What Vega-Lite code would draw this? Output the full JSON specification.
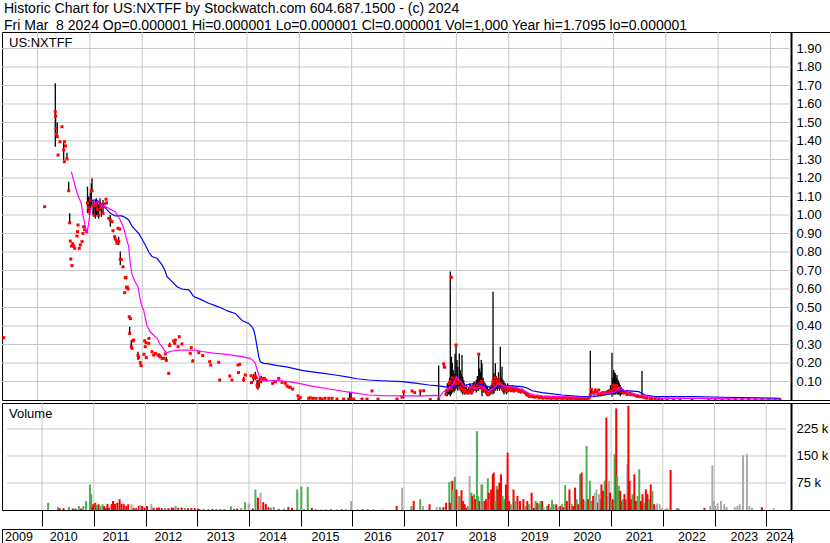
{
  "$schema": "https://vega.github.io/schema/vega-lite/v6.json",
  "padding": {"left": 1, "right": 0, "top": 2, "bottom": 0},
  "background": "white",
  "spacing": 1,
  "config": {
    "font": "Liberation Sans",
    "view": {"stroke": "black", "strokeWidth": 1},
    "axis": {"labelFont": "Liberation Sans", "labelColor": "black", "labelFontSize": 13, "labelOverlap": false, "grid": false, "title": null},
    "title": {"font": "Liberation Sans", "fontWeight": "normal", "color": "black"}
  },
  "title": {"text": ["Historic Chart for US:NXTFF by Stockwatch.com 604.687.1500 - (c) 2024", "Fri Mar \u00a08 2024 Op=0.000001 Hi=0.000001 Lo=0.000001 Cl=0.000001 Vol=1,000 Year hi=1.7095 lo=0.000001"], "anchor": "start", "fontSize": 14, "lineHeight": 17, "offset": -2, "dx": 3},
  "datasets": {
    "yg": [{"t":2010},{"t":2011},{"t":2012},{"t":2013},{"t":2014},{"t":2015},{"t":2016},{"t":2017},{"t":2018},{"t":2019},{"t":2020},{"t":2021},{"t":2022},{"t":2023},{"t":2024}],
    "pg": [{"p":0.1},{"p":0.2},{"p":0.3},{"p":0.4},{"p":0.5},{"p":0.6},{"p":0.7},{"p":0.8},{"p":0.9},{"p":1.0},{"p":1.1},{"p":1.2},{"p":1.3},{"p":1.4},{"p":1.5},{"p":1.6},{"p":1.7},{"p":1.8},{"p":1.9}],
    "vg": [{"v":75000},{"v":150000},{"v":225000}],
    "px": [
      {"t":2009.354,"c":0.337},{"t":2010.137,"c":1.045},
      {"t":2010.340,"h":1.712,"l":1.369,"c":1.558},{"t":2010.346,"h":1.54,"l":1.44,"c":1.535},{"t":2010.353,"c":1.468},{"t":2010.363,"c":1.438},
      {"t":2010.378,"h":1.50,"l":1.42,"c":1.423},{"t":2010.392,"c":1.324},{"t":2010.430,"c":1.396},{"t":2010.468,"c":1.477},
      {"t":2010.500,"h":1.396,"l":1.297,"c":1.351},{"t":2010.512,"c":1.288},{"t":2010.516,"c":1.396},{"t":2010.535,"c":1.373},
      {"t":2010.563,"h":1.337,"l":1.297,"c":1.303},{"t":2010.596,"h":1.18,"l":1.13,"c":1.131},{"t":2010.615,"h":1.009,"l":0.955,"c":0.958},
      {"t":2010.626,"c":0.859},{"t":2010.636,"c":0.762},{"t":2010.649,"c":0.832},{"t":2010.659,"c":0.726},{"t":2010.672,"c":0.845},
      {"t":2010.691,"c":0.832},{"t":2010.711,"c":0.82},{"t":2010.754,"c":0.886},{"t":2010.764,"c":0.91},{"t":2010.774,"c":0.946},
      {"t":2010.798,"c":0.82},{"t":2010.818,"c":0.838},{"t":2010.850,"c":0.856},{"t":2010.869,"c":0.90},{"t":2010.882,"c":0.937},
      {"t":2010.901,"c":0.92},{"t":2010.940,"c":0.91},
      {"t":2010.955,"h":1.153,"l":1.01,"c":1.065},{"t":2010.974,"h":1.10,"l":1.02,"c":1.04},{"t":2010.989,"h":1.09,"l":1.0,"c":1.02},
      {"t":2011.008,"h":1.12,"l":1.03,"c":1.08},{"t":2011.028,"h":1.17,"l":1.05,"c":1.131},{"t":2011.041,"h":1.198,"l":1.126,"c":1.131},
      {"t":2011.060,"h":1.08,"l":1.0,"c":1.05},{"t":2011.079,"h":1.07,"l":0.99,"c":1.0},{"t":2011.104,"h":1.08,"l":0.98,"c":1.06},
      {"t":2011.123,"h":1.09,"l":1.0,"c":1.05},{"t":2011.142,"h":1.07,"l":0.99,"c":1.03},{"t":2011.169,"h":1.06,"l":0.98,"c":1.0},
      {"t":2011.194,"h":1.09,"l":1.02,"c":1.06},{"t":2011.219,"h":1.06,"l":0.99,"c":1.04},{"t":2011.251,"h":1.081,"l":1.009,"c":1.009},
      {"t":2011.276,"c":1.06},{"t":2011.308,"c":1.085},{"t":2011.318,"c":1.065},{"t":2011.360,"c":0.982},
      {"t":2011.390,"h":1.0,"l":0.937,"c":0.973},{"t":2011.423,"c":0.964},{"t":2011.442,"c":0.915},{"t":2011.474,"c":0.883},
      {"t":2011.486,"c":0.87},{"t":2011.509,"c":0.86},{"t":2011.518,"c":0.847},{"t":2011.537,"c":0.928},
      {"t":2011.551,"h":0.883,"l":0.838,"c":0.856},{"t":2011.570,"c":0.924},{"t":2011.581,"h":0.802,"l":0.73,"c":0.76},
      {"t":2011.600,"c":0.76},{"t":2011.633,"c":0.72},{"t":2011.665,"c":0.58},{"t":2011.677,"c":0.661},{"t":2011.690,"c":0.661},
      {"t":2011.700,"c":0.609},{"t":2011.715,"c":0.61},{"t":2011.729,"c":0.60},{"t":2011.753,"c":0.45},
      {"t":2011.761,"h":0.396,"l":0.351,"c":0.36},{"t":2011.776,"c":0.44},{"t":2011.791,"h":0.324,"l":0.279,"c":0.29},
      {"t":2011.805,"c":0.279},{"t":2011.824,"c":0.32},{"t":2011.837,"c":0.324},{"t":2011.919,"h":0.261,"l":0.216,"c":0.24},
      {"t":2011.932,"c":0.23},{"t":2011.963,"c":0.202},{"t":2011.977,"c":0.186},{"t":2012.034,"c":0.247},{"t":2012.047,"c":0.32},
      {"t":2012.059,"c":0.288},{"t":2012.072,"c":0.31},{"t":2012.078,"c":0.229},{"t":2012.124,"c":0.306},{"t":2012.128,"c":0.333},
      {"t":2012.187,"c":0.261},{"t":2012.219,"c":0.243},{"t":2012.250,"c":0.252},{"t":2012.302,"c":0.243},
      {"t":2012.326,"h":0.252,"l":0.225,"c":0.24},{"t":2012.345,"c":0.235},{"t":2012.378,"c":0.225},{"t":2012.410,"c":0.225},
      {"t":2012.441,"c":0.249},{"t":2012.460,"h":0.234,"l":0.207,"c":0.215},{"t":2012.506,"c":0.144},
      {"t":2012.525,"h":0.31,"l":0.288,"c":0.295},{"t":2012.601,"c":0.319},{"t":2012.620,"c":0.306},{"t":2012.632,"c":0.324},
      {"t":2012.684,"c":0.288},{"t":2012.708,"c":0.342},{"t":2012.760,"c":0.303},{"t":2012.918,"c":0.252},{"t":2012.937,"c":0.283},
      {"t":2012.964,"h":0.22,"l":0.207,"c":0.21},{"t":2013.079,"c":0.256},{"t":2013.155,"c":0.24},{"t":2013.289,"c":0.207},
      {"t":2013.308,"c":0.189},{"t":2013.461,"c":0.204},{"t":2013.480,"c":0.108},{"t":2013.671,"c":0.13},{"t":2013.715,"c":0.108},
      {"t":2013.829,"c":0.189},{"t":2013.839,"c":0.148},{"t":2013.862,"c":0.193},{"t":2013.938,"h":0.126,"l":0.099,"c":0.11},
      {"t":2013.969,"c":0.135},{"t":2014.078,"c":0.131},{"t":2014.087,"c":0.094},{"t":2014.125,"h":0.14,"l":0.10,"c":0.12},
      {"t":2014.160,"h":0.153,"l":0.108,"c":0.13},{"t":2014.179,"c":0.12},{"t":2014.193,"h":0.108,"l":0.063,"c":0.08},
      {"t":2014.211,"h":0.10,"l":0.055,"c":0.07},{"t":2014.236,"h":0.12,"l":0.07,"c":0.10},{"t":2014.274,"h":0.13,"l":0.09,"c":0.117},
      {"t":2014.297,"c":0.11},{"t":2014.332,"c":0.117},{"t":2014.364,"c":0.108},{"t":2014.492,"c":0.09},{"t":2014.542,"c":0.099},
      {"t":2014.607,"c":0.117},{"t":2014.670,"c":0.095},{"t":2014.733,"c":0.09},{"t":2014.765,"c":0.076},{"t":2014.803,"c":0.07},
      {"t":2014.828,"c":0.068},{"t":2014.874,"c":0.059},{"t":2014.975,"c":0.022},{"t":2014.989,"c":0.004},{"t":2015.019,"c":0.013},
      {"t":2015.180,"c":0.009},{"t":2015.210,"c":0.012},{"t":2015.262,"c":0.009},{"t":2015.319,"c":0.009},{"t":2015.395,"c":0.009},
      {"t":2015.434,"c":0.005},{"t":2015.491,"c":0.009},{"t":2015.562,"c":0.009},{"t":2015.625,"c":0.009},{"t":2015.720,"c":0.005},
      {"t":2015.848,"c":0.005},{"t":2015.944,"c":0.005},{"t":2015.963,"h":0.045,"l":0.0,"c":0.005},{"t":2015.988,"h":0.04,"l":0.0,"c":0.005},
      {"t":2016.039,"c":0.005},{"t":2016.198,"c":0.005},{"t":2016.293,"c":0.005},{"t":2016.389,"c":0.049},{"t":2016.503,"c":0.005},
      {"t":2016.866,"c":0.005},{"t":2016.962,"c":0.015},{"t":2016.994,"h":0.045,"l":0.01,"c":0.045},{"t":2017.153,"c":0.049},
      {"t":2017.204,"c":0.04},{"t":2017.311,"h":0.049,"l":0.02,"c":0.049},{"t":2017.376,"c":0.05},{"t":2017.502,"c":0.002},
      {"t":2017.662,"h":0.186,"l":0.0,"c":0.005},{"t":2017.758,"h":0.198,"l":0.173,"c":0.195},{"t":2017.777,"c":0.177},
      {"t":2017.802,"h":0.06,"l":0.02,"c":0.03},{"t":2017.827,"h":0.09,"l":0.02,"c":0.05},{"t":2017.850,"h":0.10,"l":0.03,"c":0.06},
      {"t":2017.869,"h":0.12,"l":0.03,"c":0.09},{"t":2017.884,"h":0.694,"l":0.02,"c":0.10},{"t":2017.903,"c":0.663},
      {"t":2017.907,"h":0.234,"l":0.03,"c":0.06},{"t":2017.922,"h":0.20,"l":0.04,"c":0.12},{"t":2017.939,"h":0.162,"l":0.05,"c":0.08},
      {"t":2017.955,"h":0.144,"l":0.04,"c":0.10},{"t":2017.974,"h":0.25,"l":0.05,"c":0.09},{"t":2017.993,"h":0.297,"l":0.06,"c":0.297},
      {"t":2018.012,"h":0.216,"l":0.07,"c":0.11},{"t":2018.027,"h":0.18,"l":0.05,"c":0.09},{"t":2018.056,"h":0.252,"l":0.06,"c":0.10},
      {"t":2018.075,"h":0.162,"l":0.05,"c":0.07},{"t":2018.094,"h":0.14,"l":0.04,"c":0.06},{"t":2018.108,"h":0.243,"l":0.05,"c":0.08},
      {"t":2018.121,"h":0.126,"l":0.03,"c":0.05},{"t":2018.140,"h":0.108,"l":0.04,"c":0.06},{"t":2018.155,"h":0.09,"l":0.03,"c":0.05},
      {"t":2018.171,"h":0.072,"l":0.03,"c":0.04},{"t":2018.194,"h":0.08,"l":0.035,"c":0.05},{"t":2018.213,"h":0.06,"l":0.03,"c":0.04},
      {"t":2018.235,"h":0.07,"l":0.03,"c":0.045},{"t":2018.260,"h":0.09,"l":0.04,"c":0.06},{"t":2018.280,"h":0.08,"l":0.03,"c":0.04},
      {"t":2018.299,"h":0.07,"l":0.03,"c":0.05},{"t":2018.318,"h":0.09,"l":0.04,"c":0.07},{"t":2018.337,"h":0.10,"l":0.05,"c":0.08},
      {"t":2018.362,"h":0.095,"l":0.05,"c":0.06},{"t":2018.381,"h":0.11,"l":0.04,"c":0.06},{"t":2018.400,"h":0.13,"l":0.05,"c":0.08},
      {"t":2018.427,"h":0.252,"l":0.05,"c":0.248},{"t":2018.446,"h":0.17,"l":0.06,"c":0.09},{"t":2018.465,"h":0.15,"l":0.06,"c":0.08},
      {"t":2018.476,"h":0.216,"l":0.072,"c":0.10},{"t":2018.490,"h":0.198,"l":0.02,"c":0.06},{"t":2018.509,"h":0.12,"l":0.04,"c":0.07},
      {"t":2018.528,"h":0.10,"l":0.04,"c":0.06},{"t":2018.553,"h":0.09,"l":0.04,"c":0.05},{"t":2018.575,"h":0.08,"l":0.03,"c":0.04},
      {"t":2018.595,"h":0.07,"l":0.02,"c":0.03},{"t":2018.617,"h":0.06,"l":0.02,"c":0.03},{"t":2018.642,"h":0.07,"l":0.03,"c":0.04},
      {"t":2018.661,"h":0.08,"l":0.03,"c":0.05},{"t":2018.681,"h":0.09,"l":0.04,"c":0.06},{"t":2018.700,"h":0.585,"l":0.03,"c":0.10},
      {"t":2018.719,"h":0.144,"l":0.036,"c":0.08},{"t":2018.744,"h":0.198,"l":0.05,"c":0.12},{"t":2018.763,"h":0.13,"l":0.06,"c":0.10},
      {"t":2018.782,"h":0.12,"l":0.05,"c":0.09},{"t":2018.805,"h":0.15,"l":0.06,"c":0.11},{"t":2018.824,"h":0.10,"l":0.05,"c":0.07},
      {"t":2018.839,"h":0.288,"l":0.06,"c":0.09},{"t":2018.858,"h":0.12,"l":0.06,"c":0.08},{"t":2018.872,"h":0.18,"l":0.05,"c":0.07},
      {"t":2018.891,"h":0.11,"l":0.04,"c":0.06},{"t":2018.910,"h":0.10,"l":0.03,"c":0.06},{"t":2018.935,"h":0.09,"l":0.04,"c":0.07},
      {"t":2018.958,"h":0.08,"l":0.03,"c":0.05},{"t":2018.977,"h":0.09,"l":0.04,"c":0.06},{"t":2019.000,"h":0.08,"l":0.045,"c":0.06},
      {"t":2019.025,"h":0.075,"l":0.05,"c":0.06},{"t":2019.049,"h":0.07,"l":0.045,"c":0.05},{"t":2019.072,"h":0.08,"l":0.05,"c":0.065},
      {"t":2019.101,"h":0.07,"l":0.04,"c":0.05},{"t":2019.126,"h":0.065,"l":0.045,"c":0.055},{"t":2019.148,"h":0.07,"l":0.05,"c":0.06},
      {"t":2019.177,"h":0.065,"l":0.04,"c":0.05},{"t":2019.202,"h":0.06,"l":0.04,"c":0.05},{"t":2019.225,"h":0.06,"l":0.035,"c":0.045},
      {"t":2019.254,"h":0.063,"l":0.04,"c":0.05},{"t":2019.282,"h":0.055,"l":0.036,"c":0.045},{"t":2019.311,"h":0.05,"l":0.03,"c":0.04},
      {"t":2019.340,"h":0.045,"l":0.02,"c":0.03},{"t":2019.368,"h":0.04,"l":0.02,"c":0.025},{"t":2019.397,"h":0.03,"l":0.015,"c":0.02},
      {"t":2019.426,"c":0.02},{"t":2019.464,"c":0.018},{"t":2019.502,"c":0.015},{"t":2019.540,"c":0.02},{"t":2019.578,"c":0.012},
      {"t":2019.616,"c":0.015},{"t":2019.655,"c":0.01},{"t":2019.693,"c":0.014},{"t":2019.731,"c":0.01},{"t":2019.769,"c":0.012},
      {"t":2019.808,"c":0.009},{"t":2019.846,"c":0.012},{"t":2019.884,"c":0.01},{"t":2019.922,"c":0.009},{"t":2019.960,"c":0.012},
      {"t":2019.998,"c":0.01},{"t":2020.036,"c":0.009},{"t":2020.074,"c":0.012},{"t":2020.113,"c":0.008},{"t":2020.151,"c":0.01},
      {"t":2020.189,"c":0.008},{"t":2020.227,"c":0.01},{"t":2020.266,"c":0.009},{"t":2020.304,"c":0.008},{"t":2020.342,"c":0.009},
      {"t":2020.380,"c":0.007},{"t":2020.419,"c":0.009},{"t":2020.457,"c":0.007},{"t":2020.495,"c":0.008},{"t":2020.533,"c":0.01},
      {"t":2020.558,"h":0.266,"l":0.018,"c":0.03},{"t":2020.577,"h":0.06,"l":0.03,"c":0.058},{"t":2020.600,"h":0.05,"l":0.03,"c":0.04},
      {"t":2020.629,"h":0.045,"l":0.03,"c":0.04},{"t":2020.653,"c":0.054},{"t":2020.676,"c":0.045},{"t":2020.705,"c":0.03},
      {"t":2020.718,"c":0.054},{"t":2020.743,"c":0.028},{"t":2020.772,"c":0.035},{"t":2020.800,"c":0.04},
      {"t":2020.829,"h":0.045,"l":0.03,"c":0.036},{"t":2020.858,"h":0.05,"l":0.03,"c":0.04},{"t":2020.886,"h":0.055,"l":0.03,"c":0.04},
      {"t":2020.915,"h":0.06,"l":0.03,"c":0.045},{"t":2020.944,"h":0.08,"l":0.03,"c":0.05},{"t":2020.972,"h":0.256,"l":0.018,"c":0.05},
      {"t":2020.988,"h":0.12,"l":0.03,"c":0.06},{"t":2021.005,"h":0.162,"l":0.03,"c":0.08},{"t":2021.020,"h":0.15,"l":0.03,"c":0.07},
      {"t":2021.035,"h":0.144,"l":0.03,"c":0.06},{"t":2021.053,"h":0.12,"l":0.04,"c":0.08},{"t":2021.068,"h":0.135,"l":0.03,"c":0.07},
      {"t":2021.087,"h":0.11,"l":0.03,"c":0.06},{"t":2021.100,"h":0.099,"l":0.03,"c":0.06},{"t":2021.115,"h":0.09,"l":0.03,"c":0.05},
      {"t":2021.131,"h":0.081,"l":0.02,"c":0.05},{"t":2021.148,"h":0.07,"l":0.03,"c":0.05},{"t":2021.163,"h":0.06,"l":0.03,"c":0.045},
      {"t":2021.196,"h":0.054,"l":0.03,"c":0.04},{"t":2021.226,"h":0.05,"l":0.03,"c":0.04},{"t":2021.259,"h":0.054,"l":0.02,"c":0.03},
      {"t":2021.291,"h":0.045,"l":0.03,"c":0.035},{"t":2021.322,"h":0.045,"l":0.02,"c":0.03},{"t":2021.354,"h":0.04,"l":0.02,"c":0.03},
      {"t":2021.387,"h":0.035,"l":0.02,"c":0.03},{"t":2021.417,"c":0.025},{"t":2021.450,"h":0.03,"l":0.015,"c":0.02},
      {"t":2021.482,"c":0.02},{"t":2021.513,"c":0.018},{"t":2021.545,"h":0.157,"l":0.018,"c":0.02},{"t":2021.577,"c":0.015},
      {"t":2021.608,"c":0.012},{"t":2021.641,"c":0.01},{"t":2021.704,"c":0.009},{"t":2021.736,"c":0.008},{"t":2021.799,"c":0.005},
      {"t":2021.864,"c":0.006},{"t":2021.927,"c":0.003},{"t":2022.023,"c":0.005},{"t":2022.151,"c":0.002},{"t":2022.271,"c":0.004},
      {"t":2022.500,"c":0.002},{"t":2022.819,"c":0.002},{"t":2022.945,"c":0.002},{"t":2023.073,"c":0.002},{"t":2023.201,"c":0.002},
      {"t":2023.327,"c":0.002},{"t":2023.455,"c":0.002},{"t":2023.583,"c":0.002},{"t":2023.709,"c":0.002},{"t":2023.837,"c":0.002},
      {"t":2023.965,"c":0.002},{"t":2024.091,"c":0.002},{"t":2024.181,"c":0.002}
    ],
    "ma200": [
      {"t":2011.041,"v":1.08},{"t":2011.136,"v":1.08},{"t":2011.232,"v":1.054},{"t":2011.295,"v":1.038},{"t":2011.385,"v":1.01},
      {"t":2011.486,"v":0.995},{"t":2011.614,"v":0.995},{"t":2011.652,"v":0.99},{"t":2011.742,"v":0.973},{"t":2011.805,"v":0.94},
      {"t":2011.868,"v":0.919},{"t":2011.933,"v":0.90},{"t":2011.996,"v":0.87},{"t":2012.059,"v":0.838},{"t":2012.124,"v":0.80},
      {"t":2012.187,"v":0.775},{"t":2012.282,"v":0.766},{"t":2012.378,"v":0.73},{"t":2012.435,"v":0.70},{"t":2012.473,"v":0.667},
      {"t":2012.569,"v":0.64},{"t":2012.664,"v":0.612},{"t":2012.760,"v":0.60},{"t":2012.888,"v":0.595},{"t":2012.918,"v":0.586},
      {"t":2012.983,"v":0.559},{"t":2013.104,"v":0.545},{"t":2013.270,"v":0.523},{"t":2013.390,"v":0.51},{"t":2013.524,"v":0.496},
      {"t":2013.638,"v":0.48},{"t":2013.778,"v":0.468},{"t":2013.906,"v":0.43},{"t":2014.034,"v":0.414},{"t":2014.097,"v":0.396},
      {"t":2014.129,"v":0.378},{"t":2014.160,"v":0.342},{"t":2014.193,"v":0.288},{"t":2014.225,"v":0.234},{"t":2014.255,"v":0.207},
      {"t":2014.320,"v":0.198},{"t":2014.416,"v":0.195},{"t":2014.574,"v":0.186},{"t":2014.733,"v":0.18},{"t":2014.861,"v":0.172},
      {"t":2015.052,"v":0.16},{"t":2015.243,"v":0.152},{"t":2015.434,"v":0.145},{"t":2015.688,"v":0.135},{"t":2015.911,"v":0.125},
      {"t":2016.102,"v":0.115},{"t":2016.325,"v":0.108},{"t":2016.580,"v":0.104},{"t":2016.962,"v":0.099},{"t":2017.249,"v":0.09},
      {"t":2017.472,"v":0.081},{"t":2017.662,"v":0.076},{"t":2017.853,"v":0.068},{"t":2017.980,"v":0.076},{"t":2018.171,"v":0.081},
      {"t":2018.362,"v":0.09},{"t":2018.451,"v":0.085},{"t":2018.553,"v":0.076},{"t":2018.713,"v":0.063},{"t":2018.872,"v":0.076},
      {"t":2019.063,"v":0.076},{"t":2019.254,"v":0.072},{"t":2019.349,"v":0.065},{"t":2019.445,"v":0.05},{"t":2019.636,"v":0.04},
      {"t":2019.763,"v":0.036},{"t":2020.018,"v":0.027},{"t":2020.209,"v":0.022},{"t":2020.400,"v":0.018},{"t":2020.591,"v":0.018},
      {"t":2020.718,"v":0.022},{"t":2020.845,"v":0.027},{"t":2020.972,"v":0.036},{"t":2021.131,"v":0.05},{"t":2021.291,"v":0.049},
      {"t":2021.482,"v":0.045},{"t":2021.608,"v":0.027},{"t":2021.799,"v":0.018},{"t":2022.563,"v":0.018},{"t":2023.073,"v":0.015},
      {"t":2023.837,"v":0.012},{"t":2024.181,"v":0.009}
    ],
    "ma50": [
      {"t":2010.646,"v":1.234},{"t":2010.697,"v":1.18},{"t":2010.754,"v":1.12},{"t":2010.836,"v":1.063},{"t":2010.869,"v":1.0},
      {"t":2010.913,"v":0.937},{"t":2010.945,"v":0.90},{"t":2010.974,"v":0.95},{"t":2011.003,"v":1.01},{"t":2011.028,"v":1.045},
      {"t":2011.079,"v":1.06},{"t":2011.136,"v":1.072},{"t":2011.232,"v":1.049},{"t":2011.295,"v":1.045},{"t":2011.423,"v":1.027},
      {"t":2011.486,"v":1.018},{"t":2011.581,"v":0.973},{"t":2011.646,"v":0.93},{"t":2011.690,"v":0.88},{"t":2011.742,"v":0.829},
      {"t":2011.767,"v":0.75},{"t":2011.805,"v":0.68},{"t":2011.862,"v":0.64},{"t":2011.919,"v":0.612},{"t":2011.963,"v":0.54},
      {"t":2011.996,"v":0.504},{"t":2012.028,"v":0.486},{"t":2012.091,"v":0.40},{"t":2012.149,"v":0.37},{"t":2012.250,"v":0.342},
      {"t":2012.282,"v":0.335},{"t":2012.340,"v":0.30},{"t":2012.378,"v":0.288},{"t":2012.435,"v":0.265},{"t":2012.473,"v":0.256},
      {"t":2012.569,"v":0.265},{"t":2012.697,"v":0.27},{"t":2013.014,"v":0.27},{"t":2013.142,"v":0.262},{"t":2013.396,"v":0.252},
      {"t":2013.524,"v":0.249},{"t":2013.715,"v":0.243},{"t":2013.906,"v":0.234},{"t":2014.059,"v":0.225},{"t":2014.129,"v":0.21},
      {"t":2014.160,"v":0.198},{"t":2014.225,"v":0.135},{"t":2014.255,"v":0.117},{"t":2014.288,"v":0.104},{"t":2014.416,"v":0.104},
      {"t":2014.536,"v":0.106},{"t":2014.797,"v":0.099},{"t":2014.989,"v":0.09},{"t":2015.243,"v":0.075},{"t":2015.688,"v":0.054},
      {"t":2016.007,"v":0.04},{"t":2016.325,"v":0.027},{"t":2016.580,"v":0.024},{"t":2016.962,"v":0.022},{"t":2017.344,"v":0.022},
      {"t":2017.592,"v":0.025},{"t":2017.694,"v":0.022},{"t":2017.726,"v":0.036},{"t":2017.758,"v":0.045},{"t":2017.853,"v":0.063},
      {"t":2017.949,"v":0.09},{"t":2017.999,"v":0.126},{"t":2018.031,"v":0.115},{"t":2018.075,"v":0.104},{"t":2018.140,"v":0.076},
      {"t":2018.222,"v":0.07},{"t":2018.362,"v":0.063},{"t":2018.490,"v":0.072},{"t":2018.566,"v":0.06},{"t":2018.617,"v":0.045},
      {"t":2018.661,"v":0.055},{"t":2018.713,"v":0.063},{"t":2018.808,"v":0.09},{"t":2018.904,"v":0.076},{"t":2019.000,"v":0.072},
      {"t":2019.190,"v":0.063},{"t":2019.292,"v":0.05},{"t":2019.381,"v":0.036},{"t":2019.502,"v":0.027},{"t":2019.636,"v":0.022},
      {"t":2020.018,"v":0.018},{"t":2020.400,"v":0.014},{"t":2020.558,"v":0.014},{"t":2020.653,"v":0.03},{"t":2020.705,"v":0.04},
      {"t":2020.781,"v":0.036},{"t":2020.909,"v":0.036},{"t":2020.972,"v":0.04},{"t":2021.035,"v":0.045},{"t":2021.087,"v":0.06},
      {"t":2021.131,"v":0.07},{"t":2021.196,"v":0.054},{"t":2021.291,"v":0.036},{"t":2021.482,"v":0.027},{"t":2021.673,"v":0.018},
      {"t":2021.927,"v":0.009},{"t":2022.563,"v":0.009},{"t":2023.837,"v":0.005},{"t":2024.181,"v":0.004}
    ],
    "vol": [
      {"t":2010.118,"v":20000,"d":"g"},{"t":2010.309,"v":8000,"d":"g"},{"t":2010.340,"v":5000,"d":"r"},{"t":2010.416,"v":5000,"d":"r"},
      {"t":2010.520,"v":8000,"d":"g"},{"t":2010.596,"v":4000,"d":"r"},{"t":2010.646,"v":4000,"d":"r"},{"t":2010.711,"v":11000,"d":"g"},
      {"t":2010.754,"v":4000,"d":"r"},{"t":2010.798,"v":11000,"d":"g"},{"t":2010.850,"v":25000,"d":"g"},{"t":2010.926,"v":71000,"d":"g"},
      {"t":2010.951,"v":44000,"d":"g"},{"t":2010.970,"v":8000,"d":"r"},{"t":2010.989,"v":16000,"d":"r"},{"t":2011.028,"v":20000,"d":"r"},
      {"t":2011.054,"v":14000,"d":"g"},{"t":2011.092,"v":16000,"d":"r"},{"t":2011.123,"v":11000,"d":"g"},{"t":2011.169,"v":16000,"d":"g"},
      {"t":2011.199,"v":11000,"d":"r"},{"t":2011.232,"v":6000,"d":"r"},{"t":2011.264,"v":17000,"d":"r"},{"t":2011.295,"v":6000,"d":"r"},
      {"t":2011.346,"v":17000,"d":"r"},{"t":2011.371,"v":25000,"d":"r"},{"t":2011.409,"v":17000,"d":"r"},{"t":2011.455,"v":20000,"d":"r"},
      {"t":2011.499,"v":30000,"d":"r"},{"t":2011.537,"v":17000,"d":"r"},{"t":2011.581,"v":16000,"d":"r"},{"t":2011.627,"v":11000,"d":"r"},
      {"t":2011.665,"v":16000,"d":"r"},{"t":2011.729,"v":16000,"d":"n"},{"t":2011.772,"v":6000,"d":"r"},{"t":2011.818,"v":5000,"d":"r"},
      {"t":2011.868,"v":11000,"d":"r"},{"t":2011.900,"v":14000,"d":"n"},{"t":2011.933,"v":11000,"d":"r"},{"t":2011.982,"v":6000,"d":"r"},
      {"t":2012.028,"v":11000,"d":"r"},{"t":2012.110,"v":16000,"d":"n"},{"t":2012.154,"v":6000,"d":"r"},{"t":2012.219,"v":6000,"d":"r"},
      {"t":2012.263,"v":7000,"d":"r"},{"t":2012.315,"v":5000,"d":"r"},{"t":2012.378,"v":6000,"d":"g"},{"t":2012.441,"v":5000,"d":"r"},
      {"t":2012.506,"v":7000,"d":"r"},{"t":2012.536,"v":6000,"d":"r"},{"t":2012.582,"v":11000,"d":"g"},{"t":2012.632,"v":6000,"d":"r"},
      {"t":2012.697,"v":7000,"d":"r"},{"t":2012.760,"v":6000,"d":"g"},{"t":2012.823,"v":5000,"d":"r"},{"t":2012.888,"v":6000,"d":"r"},
      {"t":2012.951,"v":5000,"d":"r"},{"t":2013.014,"v":4000,"d":"r"},{"t":2013.046,"v":2000,"d":"r"},{"t":2013.123,"v":3000,"d":"g"},
      {"t":2013.218,"v":2000,"d":"r"},{"t":2013.295,"v":3000,"d":"r"},{"t":2013.371,"v":2000,"d":"r"},{"t":2013.448,"v":3000,"d":"g"},
      {"t":2013.524,"v":2000,"d":"r"},{"t":2013.650,"v":10000,"d":"g"},{"t":2013.715,"v":3000,"d":"r"},{"t":2013.772,"v":4000,"d":"r"},
      {"t":2013.849,"v":5000,"d":"g"},{"t":2013.925,"v":22000,"d":"g"},{"t":2013.994,"v":18000,"d":"n"},{"t":2014.074,"v":4000,"d":"r"},
      {"t":2014.125,"v":57000,"d":"g"},{"t":2014.173,"v":34000,"d":"r"},{"t":2014.225,"v":48000,"d":"n"},{"t":2014.276,"v":22000,"d":"r"},
      {"t":2014.326,"v":16000,"d":"r"},{"t":2014.377,"v":8000,"d":"r"},{"t":2014.427,"v":6000,"d":"g"},{"t":2014.479,"v":8000,"d":"g"},
      {"t":2014.574,"v":3000,"d":"r"},{"t":2014.681,"v":4000,"d":"g"},{"t":2014.761,"v":8000,"d":"r"},{"t":2014.832,"v":6000,"d":"r"},
      {"t":2014.933,"v":57000,"d":"g"},{"t":2015.013,"v":65000,"d":"g"},{"t":2015.065,"v":2000,"d":"r"},{"t":2015.136,"v":64000,"d":"g"},
      {"t":2015.216,"v":6000,"d":"r"},{"t":2015.287,"v":2000,"d":"r"},{"t":2015.395,"v":2000,"d":"n"},{"t":2015.491,"v":2000,"d":"n"},
      {"t":2015.586,"v":3000,"d":"g"},{"t":2015.701,"v":2000,"d":"n"},{"t":2015.797,"v":2000,"d":"r"},{"t":2015.873,"v":3000,"d":"n"},
      {"t":2015.974,"v":25000,"d":"n"},{"t":2016.096,"v":2000,"d":"n"},{"t":2016.198,"v":2000,"d":"r"},{"t":2016.299,"v":3000,"d":"n"},
      {"t":2016.400,"v":2000,"d":"g"},{"t":2016.580,"v":2000,"d":"n"},{"t":2016.855,"v":11000,"d":"r"},{"t":2016.962,"v":62000,"d":"n"},
      {"t":2017.140,"v":11000,"d":"g"},{"t":2017.185,"v":25000,"d":"r"},{"t":2017.311,"v":30000,"d":"g"},{"t":2017.363,"v":11000,"d":"n"},
      {"t":2017.491,"v":16000,"d":"r"},{"t":2017.630,"v":8000,"d":"n"},{"t":2017.693,"v":8000,"d":"g"},{"t":2017.758,"v":8000,"d":"r"},
      {"t":2017.811,"v":20000,"d":"r"},{"t":2017.873,"v":78000,"d":"g"},{"t":2017.884,"v":20000,"d":"r"},{"t":2017.930,"v":81000,"d":"r"},
      {"t":2017.946,"v":55000,"d":"n"},{"t":2017.980,"v":92000,"d":"g"},{"t":2018.012,"v":57000,"d":"r"},{"t":2018.044,"v":39000,"d":"n"},
      {"t":2018.069,"v":39000,"d":"g"},{"t":2018.108,"v":55000,"d":"r"},{"t":2018.140,"v":25000,"d":"r"},{"t":2018.171,"v":16000,"d":"r"},
      {"t":2018.203,"v":6000,"d":"r"},{"t":2018.235,"v":11000,"d":"g"},{"t":2018.266,"v":94000,"d":"n"},{"t":2018.299,"v":48000,"d":"g"},
      {"t":2018.318,"v":39000,"d":"r"},{"t":2018.350,"v":44000,"d":"g"},{"t":2018.375,"v":30000,"d":"r"},{"t":2018.407,"v":219000,"d":"g"},
      {"t":2018.427,"v":39000,"d":"g"},{"t":2018.457,"v":25000,"d":"r"},{"t":2018.490,"v":71000,"d":"n"},{"t":2018.509,"v":71000,"d":"g"},
      {"t":2018.553,"v":25000,"d":"r"},{"t":2018.585,"v":30000,"d":"r"},{"t":2018.617,"v":88000,"d":"g"},{"t":2018.636,"v":48000,"d":"r"},
      {"t":2018.655,"v":30000,"d":"n"},{"t":2018.681,"v":57000,"d":"r"},{"t":2018.713,"v":99000,"d":"r"},{"t":2018.732,"v":104000,"d":"r"},
      {"t":2018.763,"v":25000,"d":"g"},{"t":2018.789,"v":67000,"d":"g"},{"t":2018.808,"v":57000,"d":"r"},{"t":2018.839,"v":76000,"d":"r"},
      {"t":2018.872,"v":99000,"d":"r"},{"t":2018.904,"v":39000,"d":"g"},{"t":2018.935,"v":30000,"d":"g"},{"t":2018.967,"v":71000,"d":"r"},
      {"t":2019.000,"v":159000,"d":"r"},{"t":2019.030,"v":25000,"d":"r"},{"t":2019.063,"v":16000,"d":"g"},{"t":2019.114,"v":57000,"d":"r"},
      {"t":2019.145,"v":25000,"d":"g"},{"t":2019.190,"v":39000,"d":"r"},{"t":2019.240,"v":25000,"d":"r"},{"t":2019.305,"v":30000,"d":"r"},
      {"t":2019.349,"v":11000,"d":"g"},{"t":2019.381,"v":25000,"d":"r"},{"t":2019.412,"v":16000,"d":"g"},{"t":2019.464,"v":48000,"d":"r"},
      {"t":2019.508,"v":6000,"d":"r"},{"t":2019.540,"v":25000,"d":"g"},{"t":2019.573,"v":20000,"d":"r"},{"t":2019.603,"v":16000,"d":"g"},
      {"t":2019.636,"v":25000,"d":"g"},{"t":2019.668,"v":25000,"d":"r"},{"t":2019.698,"v":8000,"d":"n"},{"t":2019.763,"v":11000,"d":"g"},
      {"t":2019.794,"v":16000,"d":"r"},{"t":2019.827,"v":8000,"d":"n"},{"t":2019.859,"v":28000,"d":"g"},{"t":2019.890,"v":16000,"d":"g"},
      {"t":2019.941,"v":16000,"d":"r"},{"t":2019.973,"v":8000,"d":"n"},{"t":2020.018,"v":11000,"d":"r"},{"t":2020.050,"v":16000,"d":"g"},
      {"t":2020.081,"v":8000,"d":"r"},{"t":2020.113,"v":69000,"d":"g"},{"t":2020.145,"v":25000,"d":"r"},{"t":2020.195,"v":57000,"d":"r"},
      {"t":2020.241,"v":16000,"d":"g"},{"t":2020.271,"v":11000,"d":"r"},{"t":2020.304,"v":62000,"d":"r"},{"t":2020.336,"v":30000,"d":"g"},
      {"t":2020.367,"v":16000,"d":"r"},{"t":2020.400,"v":99000,"d":"g"},{"t":2020.432,"v":104000,"d":"r"},{"t":2020.463,"v":30000,"d":"r"},
      {"t":2020.495,"v":25000,"d":"n"},{"t":2020.527,"v":178000,"d":"g"},{"t":2020.558,"v":30000,"d":"r"},{"t":2020.591,"v":81000,"d":"g"},
      {"t":2020.623,"v":25000,"d":"g"},{"t":2020.653,"v":39000,"d":"r"},{"t":2020.686,"v":48000,"d":"n"},{"t":2020.718,"v":57000,"d":"n"},
      {"t":2020.749,"v":20000,"d":"r"},{"t":2020.768,"v":44000,"d":"n"},{"t":2020.795,"v":30000,"d":"g"},{"t":2020.814,"v":71000,"d":"r"},
      {"t":2020.845,"v":53000,"d":"r"},{"t":2020.877,"v":81000,"d":"g"},{"t":2020.909,"v":256000,"d":"r"},{"t":2020.940,"v":39000,"d":"g"},
      {"t":2020.959,"v":81000,"d":"n"},{"t":2020.980,"v":48000,"d":"r"},{"t":2021.005,"v":25000,"d":"g"},{"t":2021.035,"v":30000,"d":"r"},
      {"t":2021.068,"v":155000,"d":"g"},{"t":2021.100,"v":282000,"d":"r"},{"t":2021.119,"v":94000,"d":"g"},{"t":2021.150,"v":67000,"d":"g"},
      {"t":2021.177,"v":53000,"d":"r"},{"t":2021.207,"v":25000,"d":"r"},{"t":2021.226,"v":30000,"d":"g"},{"t":2021.259,"v":44000,"d":"r"},
      {"t":2021.291,"v":30000,"d":"r"},{"t":2021.316,"v":127000,"d":"n"},{"t":2021.335,"v":289000,"d":"r"},{"t":2021.358,"v":81000,"d":"r"},
      {"t":2021.387,"v":30000,"d":"r"},{"t":2021.417,"v":44000,"d":"g"},{"t":2021.450,"v":99000,"d":"r"},{"t":2021.482,"v":25000,"d":"r"},
      {"t":2021.513,"v":39000,"d":"g"},{"t":2021.545,"v":113000,"d":"g"},{"t":2021.577,"v":25000,"d":"r"},{"t":2021.608,"v":44000,"d":"r"},
      {"t":2021.641,"v":20000,"d":"g"},{"t":2021.673,"v":57000,"d":"r"},{"t":2021.704,"v":44000,"d":"r"},{"t":2021.736,"v":30000,"d":"g"},
      {"t":2021.767,"v":71000,"d":"r"},{"t":2021.799,"v":53000,"d":"g"},{"t":2021.832,"v":16000,"d":"r"},{"t":2021.864,"v":8000,"d":"n"},
      {"t":2021.889,"v":18000,"d":"n"},{"t":2021.940,"v":16000,"d":"n"},{"t":2021.990,"v":6000,"d":"n"},{"t":2022.055,"v":4000,"d":"n"},
      {"t":2022.086,"v":5000,"d":"n"},{"t":2022.151,"v":111000,"d":"r"},{"t":2022.277,"v":6000,"d":"g"},{"t":2022.309,"v":4000,"d":"g"},
      {"t":2022.806,"v":6000,"d":"r"},{"t":2022.915,"v":11000,"d":"n"},{"t":2022.959,"v":124000,"d":"n"},{"t":2022.987,"v":25000,"d":"n"},
      {"t":2023.016,"v":11000,"d":"n"},{"t":2023.060,"v":18000,"d":"n"},{"t":2023.125,"v":25000,"d":"n"},{"t":2023.188,"v":16000,"d":"n"},
      {"t":2023.232,"v":8000,"d":"n"},{"t":2023.392,"v":8000,"d":"n"},{"t":2023.442,"v":11000,"d":"n"},{"t":2023.487,"v":16000,"d":"n"},
      {"t":2023.551,"v":152000,"d":"n"},{"t":2023.627,"v":155000,"d":"n"},{"t":2023.675,"v":11000,"d":"n"},{"t":2023.723,"v":6000,"d":"n"},
      {"t":2023.914,"v":8000,"d":"r"},{"t":2024.143,"v":5000,"d":"n"}
    ],
    "yrs": [
      {"t":2009.647,"y":"2009"},{"t":2010.5,"y":"2010"},{"t":2011.5,"y":"2011"},{"t":2012.5,"y":"2012"},{"t":2013.5,"y":"2013"},
      {"t":2014.5,"y":"2014"},{"t":2015.5,"y":"2015"},{"t":2016.5,"y":"2016"},{"t":2017.5,"y":"2017"},{"t":2018.5,"y":"2018"},
      {"t":2019.5,"y":"2019"},{"t":2020.5,"y":"2020"},{"t":2021.5,"y":"2021"},{"t":2022.5,"y":"2022"},{"t":2023.5,"y":"2023"},
      {"t":2024.18,"y":"2024"}
    ]
  },
  "vconcat": [
    {
      "width": 828, "height": 368,
      "title": {"text": "US:NXTFF", "anchor": "start", "fontSize": 13, "offset": -18, "dx": 7, "frame": "group"},
      "layer": [
        {
          "data": {"name": "yg"},
          "mark": {"type": "rule", "color": "#c8c8c8", "strokeWidth": 1},
          "encoding": {
            "x": {"field": "t", "type": "quantitative", "scale": {"domain": [2009.322, 2025.136], "nice": false, "zero": false}, "axis": null}
          }
        },
        {
          "data": {"name": "pg"},
          "mark": {"type": "rule", "color": "#c8c8c8", "strokeWidth": 1},
          "encoding": {
            "x": {"datum": 2009.322, "type": "quantitative", "axis": null},
            "x2": {"datum": 2024.391},
            "y": {"field": "p", "type": "quantitative", "scale": {"domain": [0, 1.989], "nice": false},
                  "axis": {"orient": "right", "offset": -39, "values": [0.1,0.2,0.3,0.4,0.5,0.6,0.7,0.8,0.9,1.0,1.1,1.2,1.3,1.4,1.5,1.6,1.7,1.8,1.9], "tickCount": 100, "format": ".2f", "ticks": false, "labelPadding": 5, "labelOverlap": false, "labelFontSize": 13, "domain": true, "domainColor": "black", "domainWidth": 2, "grid": false}}
          }
        },
        {
          "data": {"name": "px"},
          "transform": [{"filter": "datum.h > datum.l"}],
          "mark": {"type": "rule", "color": "black", "strokeWidth": 1.3, "clip": true},
          "encoding": {
            "x": {"field": "t", "type": "quantitative", "axis": null},
            "y": {"field": "l", "type": "quantitative"},
            "y2": {"field": "h"}
          }
        },
        {
          "data": {"name": "px"},
          "mark": {"type": "square", "color": "#ff0000", "size": 9, "opacity": 1, "clip": true},
          "encoding": {
            "x": {"field": "t", "type": "quantitative", "axis": null},
            "y": {"field": "c", "type": "quantitative"}
          }
        },
        {
          "data": {"name": "ma200"},
          "mark": {"type": "line", "color": "#0000ff", "strokeWidth": 1.2, "clip": true},
          "encoding": {
            "x": {"field": "t", "type": "quantitative", "axis": null},
            "y": {"field": "v", "type": "quantitative"}
          }
        },
        {
          "data": {"name": "ma50"},
          "mark": {"type": "line", "color": "#ff00ff", "strokeWidth": 1.2, "clip": true},
          "encoding": {
            "x": {"field": "t", "type": "quantitative", "axis": null},
            "y": {"field": "v", "type": "quantitative"}
          }
        }
      ]
    },
    {
      "width": 828, "height": 107,
      "title": {"text": "Volume", "anchor": "start", "fontSize": 13, "offset": -18, "dx": 7, "frame": "group"},
      "layer": [
        {
          "data": {"name": "yg"},
          "mark": {"type": "rule", "color": "#c8c8c8", "strokeWidth": 1},
          "encoding": {
            "x": {"field": "t", "type": "quantitative", "scale": {"domain": [2009.322, 2025.136], "nice": false, "zero": false},
                  "axis": {"orient": "bottom", "values": [2010,2011,2012,2013,2014,2015,2016,2017,2018,2019,2020,2021,2022,2023,2024], "tickCount": 100, "labels": false, "ticks": true, "tickColor": "black", "tickSize": 16, "tickWidth": 1, "domain": false, "grid": false}}
          }
        },
        {
          "data": {"name": "vg"},
          "mark": {"type": "rule", "color": "#c8c8c8", "strokeWidth": 1},
          "encoding": {
            "x": {"datum": 2009.322, "type": "quantitative"},
            "x2": {"datum": 2024.391},
            "y": {"field": "v", "type": "quantitative", "scale": {"domain": [0, 297000], "nice": false},
                  "axis": {"orient": "right", "offset": -39, "values": [75000, 150000, 225000], "tickCount": 100, "labelExpr": "(datum.value / 1000) + ' k'", "ticks": false, "labelPadding": 5, "labelOverlap": false, "domain": true, "domainColor": "black", "domainWidth": 2, "grid": false}}
          }
        },
        {
          "data": {"name": "vol"},
          "mark": {"type": "bar", "size": 2, "clip": true},
          "encoding": {
            "x": {"field": "t", "type": "quantitative"},
            "y": {"field": "v", "type": "quantitative"},
            "color": {"field": "d", "type": "nominal", "scale": {"domain": ["g", "r", "n"], "range": ["#4caf50", "#ff0000", "#aaaaaa"]}, "legend": null}
          }
        }
      ]
    },
    {
      "width": 789, "height": 15,
      "data": {"name": "yrs"},
      "mark": {"type": "text", "fontSize": 12.5, "color": "black", "font": "Liberation Sans"},
      "encoding": {
        "x": {"field": "t", "type": "quantitative", "scale": {"domain": [2009.322, 2024.391], "nice": false, "zero": false}, "axis": null},
        "text": {"field": "y"}
      }
    }
  ]
}
